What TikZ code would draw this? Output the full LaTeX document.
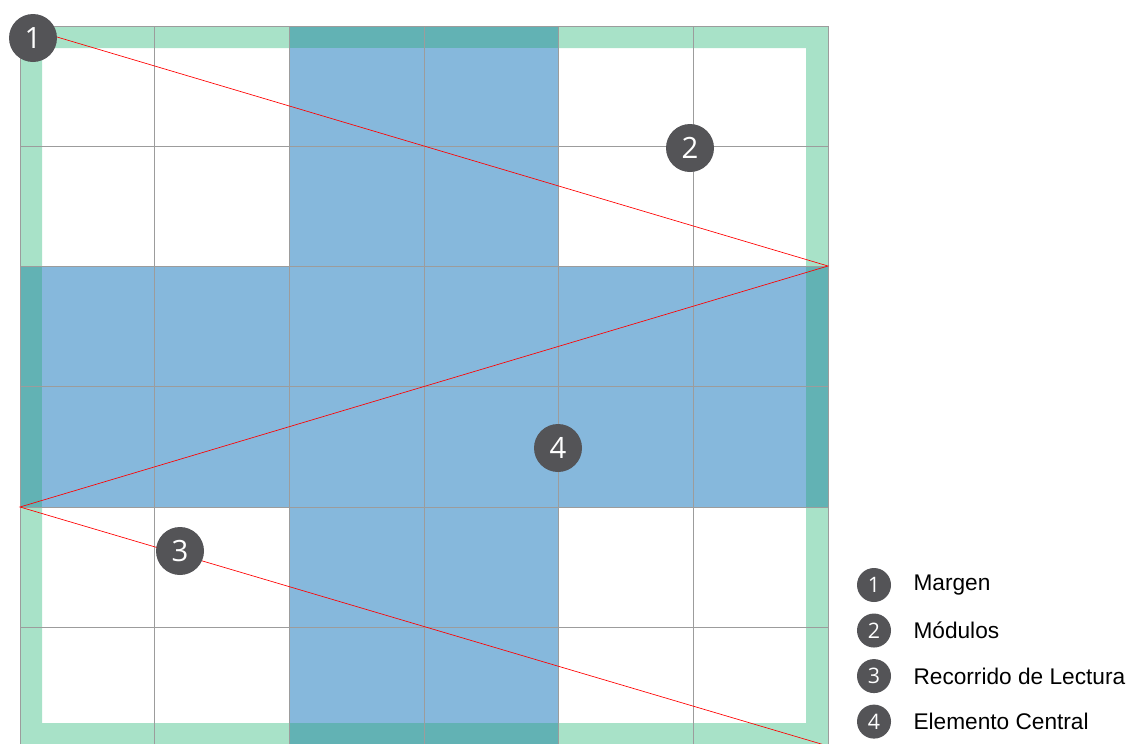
\documentclass[tikz,border=0pt]{standalone}
\usepackage{fontspec}
\setmainfont{Open Sans}
\newfontfamily\keyfont{Liberation Sans}
\usepackage{xcolor}
\definecolor{margen}  {HTML}{A8E2C8}
\definecolor{central} {HTML}{86B8DC}
\definecolor{solape}  {HTML}{62B2B4}
\definecolor{badge}   {HTML}{545457}
\definecolor{grilla}  {HTML}{9C9C9C}
\usetikzlibrary{positioning, calc}
\tikzset{
    marker/.style={circle, fill=badge, text=white, minimum size=36pt,
                   inner sep=0pt, font=\fontsize{22}{22}\selectfont},
    keymark/.style={marker, minimum size=25.5pt,
                    font=\fontsize{16}{16}\selectfont},
    keytext/.style={anchor=west, inner sep=0pt, text=black,
                    font=\keyfont\fontsize{17}{17}\selectfont},
    gridline/.style={grilla, line width=0.5pt},
    readpath/.style={red, line width=0.5pt},
}

\begin{document}
\begin{tikzpicture}[x=0.75pt, y=-0.75pt]
    \clip (0,0) rectangle (1134,743);
    \fill[white] (0,0) rectangle (1134,743);
    % Margin band
    \fill[margen, even odd rule] (20,26) rectangle (828,746)
                                 (42,48) rectangle (806,723);
    % Central cross
    \fill[central] (290,26) rectangle (559,746);
    \fill[central] (20,266) rectangle (828,507);
    \fill[solape] (290,26) rectangle (559,48);
    \fill[solape] (290,723) rectangle (559,746);
    \fill[solape] (20,266) rectangle (42,507);
    \fill[solape] (806,266) rectangle (828,507);
    % Module grid
    \foreach \x in {20,154.7,289.3,424,558.7,693.3,828}
        \draw[gridline] (\x,26) -- (\x,746);
    \foreach \y in {26,146,266,386.5,507,627,746}
        \draw[gridline] (20,\y) -- (828,\y);
    % Reading path
    \coordinate (p0) at (20,26);
    \coordinate (p1) at (828,266);
    \coordinate (p2) at (20,507);
    \coordinate (p3) at (828,746);
    \draw[readpath] (p0) -- (p1) -- (p2) -- (p3);
    % Markers
    \node[marker] (m1) at (33,38) {1};
    \node[marker] (m2) at (690,148) {2};
    \node[marker] (m3) at (180,551) {3};
    \node[marker] (m4) at (558,448) {4};
    % Legend
    \node[keymark] (k1) at (874,585) {1};
    \node[keymark, below=8.25pt of k1] (k2) {2};
    \node[keymark, below=8.25pt of k2] (k3) {3};
    \node[keymark, below=8.25pt of k3] (k4) {4};
    \node[keytext, right=16.5pt of k1] (t1) {Margen};
    \node[keytext, right=16.5pt of k2] (t2) {Módulos};
    \node[keytext, right=16.5pt of k3] (t3) {Recorrido de Lectura};
    \node[keytext, right=16.5pt of k4] (t4) {Elemento Central};
\end{tikzpicture}
\end{document}
